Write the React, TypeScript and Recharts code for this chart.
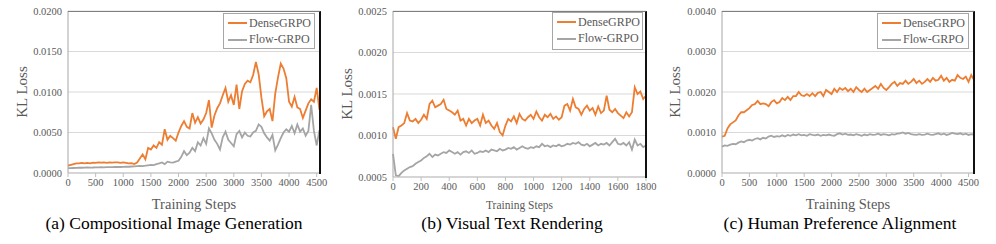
import { LineChart, Line, XAxis, YAxis, CartesianGrid } from "recharts";

const ORANGE = "#ED7D31";
const GRAY = "#A5A5A5";
const TEXT = "#595959";
const FONT = "Liberation Serif";

// (a) Compositional Image Generation, sampled every 50 steps
const denseA = [
  0.0009, 0.001, 0.0011, 0.0012, 0.0012, 0.00125, 0.0012, 0.00125, 0.0012, 0.00128,
  0.00125, 0.0013, 0.00128, 0.0013, 0.00125, 0.0013, 0.00128, 0.0013, 0.00132, 0.00125,
  0.0013, 0.00126, 0.0012, 0.00122, 0.0011, 0.0013, 0.0018, 0.0023, 0.0017, 0.0031,
  0.0029, 0.0034, 0.0031, 0.0038, 0.0035, 0.0054, 0.0041, 0.0046, 0.0043, 0.004,
  0.005, 0.0058, 0.0064, 0.0057, 0.0055, 0.0074, 0.0062, 0.0069, 0.0061, 0.0066,
  0.0074, 0.009, 0.0056, 0.0071, 0.008, 0.0086, 0.0096, 0.0105, 0.0088, 0.0096,
  0.0084, 0.0109, 0.0079, 0.0101, 0.011, 0.0114, 0.0112, 0.0121, 0.0137, 0.0122,
  0.0093, 0.007, 0.0076, 0.0079, 0.0064, 0.0098, 0.0118, 0.0135, 0.0129, 0.0117,
  0.0088, 0.0082, 0.0094, 0.0081, 0.0079, 0.0068, 0.0077, 0.0086, 0.0091, 0.0088,
  0.0105, 0.0078,
];
const flowA = [
  0.0006, 0.0006, 0.00062, 0.00063, 0.00065, 0.00065, 0.00066, 0.00068, 0.00067, 0.00068,
  0.0007, 0.0007, 0.00071, 0.0007, 0.00072, 0.00073, 0.00072, 0.00074, 0.00075, 0.00074,
  0.00076, 0.00078, 0.00077, 0.0008, 0.00082, 0.00085, 0.00088, 0.00086, 0.0009, 0.00095,
  0.001, 0.00098, 0.0011, 0.00118, 0.0013, 0.0011, 0.0014, 0.0013, 0.00128, 0.0014,
  0.0015, 0.002, 0.0027, 0.0022, 0.0025, 0.0031, 0.0027, 0.0038, 0.0034, 0.0043,
  0.0036, 0.0055, 0.0049, 0.0041, 0.0036, 0.0029, 0.0044, 0.0051, 0.0041, 0.0037,
  0.0033, 0.0048, 0.0052, 0.0044, 0.005, 0.0046, 0.0045, 0.005, 0.0052, 0.006,
  0.0057, 0.0049, 0.0044, 0.004, 0.0047, 0.0028, 0.0035, 0.0043, 0.005, 0.0054,
  0.0051, 0.0058, 0.0049, 0.006, 0.0051, 0.0055, 0.0046, 0.0052, 0.0084, 0.0052,
  0.0034, 0.0053,
];

// (b) Visual Text Rendering, sampled every 20 steps
const denseB = [
  0.0011, 0.00096, 0.0011, 0.00112, 0.00115, 0.00127, 0.00118, 0.00117, 0.0012, 0.00115,
  0.00119, 0.00125, 0.0012, 0.00138, 0.00142, 0.00134, 0.00136, 0.00138, 0.00143, 0.00132,
  0.0013, 0.00128, 0.00125, 0.0013, 0.00118, 0.0012, 0.00112, 0.0012, 0.00115, 0.00118,
  0.0012, 0.00112, 0.00125, 0.00115, 0.00118, 0.00112, 0.00108, 0.00115, 0.00104, 0.001,
  0.00112, 0.0012, 0.00117, 0.00123, 0.00115, 0.00126, 0.0012, 0.00118, 0.00122, 0.00125,
  0.0012, 0.00129, 0.00122, 0.00118, 0.00125, 0.00122, 0.00126, 0.0012, 0.00123, 0.00119,
  0.00122, 0.00136, 0.00138, 0.0013, 0.00144, 0.00134, 0.00132, 0.00125, 0.00132, 0.00136,
  0.0013, 0.00133, 0.00125, 0.00135, 0.00127, 0.0013, 0.00148, 0.00131, 0.00128, 0.00132,
  0.00127, 0.00124, 0.00121, 0.00128, 0.00123, 0.00128, 0.00158, 0.0015, 0.00153, 0.00144,
  0.00148,
];
const flowB = [
  0.00078, 0.00052, 0.00051, 0.00055, 0.00058, 0.0006, 0.00062, 0.00063, 0.00066, 0.00068,
  0.0007, 0.00073, 0.00075, 0.00078, 0.00074, 0.00077, 0.00076, 0.00078, 0.0008, 0.00079,
  0.00082, 0.0008, 0.00078, 0.0008, 0.00077, 0.0008, 0.00081, 0.00079, 0.00082, 0.00078,
  0.00079, 0.00081, 0.0008, 0.00082, 0.0008, 0.00083, 0.00082, 0.00081, 0.00084, 0.00082,
  0.00083, 0.00085, 0.00084, 0.00086, 0.00083, 0.00085, 0.00087, 0.00085, 0.00084, 0.00086,
  0.00085, 0.00087, 0.00086, 0.0009, 0.00087, 0.00088, 0.00086, 0.00088, 0.00087, 0.00089,
  0.00087, 0.00088, 0.0009, 0.00089, 0.00091, 0.0009, 0.00092, 0.00089, 0.00088, 0.0009,
  0.00087, 0.00089, 0.00091, 0.00088, 0.0009, 0.00089, 0.00091, 0.00088, 0.00092, 0.00096,
  0.0009, 0.00089, 0.00091, 0.00088, 0.00092, 0.00083, 0.00095, 0.00088, 0.0009, 0.00086,
  0.00088,
];

// (c) Human Preference Alignment, sampled every 50 steps
const denseC = [
  0.0009, 0.00092, 0.0011, 0.0012, 0.00125, 0.0013, 0.00142, 0.0015, 0.0015, 0.00155,
  0.0016, 0.00168, 0.0017, 0.00178, 0.0017, 0.00172, 0.0017, 0.00165, 0.00175, 0.0018,
  0.00172, 0.00175, 0.00185, 0.0018, 0.00188, 0.0018, 0.0019, 0.0019, 0.002, 0.00192,
  0.0019, 0.00195, 0.0019, 0.00197, 0.0019, 0.00198, 0.002, 0.0019, 0.00205, 0.002,
  0.00195, 0.00208, 0.002, 0.0021, 0.00205, 0.0021, 0.00202, 0.00208, 0.002, 0.00212,
  0.00205, 0.002, 0.00208, 0.002, 0.00205, 0.0021, 0.00215, 0.00208, 0.0022, 0.0021,
  0.00205, 0.00212, 0.0022, 0.00225, 0.00215, 0.00222, 0.0022, 0.00228, 0.0022, 0.00225,
  0.00232, 0.00222, 0.00228, 0.0022, 0.00225, 0.00232, 0.00225, 0.00235, 0.00228, 0.0023,
  0.0024, 0.00228, 0.00235, 0.00225, 0.0023, 0.00228, 0.00242, 0.00235, 0.00232, 0.00238,
  0.00225, 0.00242, 0.0023,
];
const flowC = [
  0.00065, 0.00068, 0.00067, 0.0007, 0.00072, 0.00071, 0.00075, 0.00078, 0.00076, 0.0008,
  0.00082, 0.0008, 0.00084, 0.00086, 0.00083, 0.00087, 0.00085, 0.0009, 0.00092, 0.00089,
  0.00091, 0.0009, 0.00093, 0.0009, 0.00094, 0.00092, 0.00095, 0.00093, 0.00096, 0.00093,
  0.00094, 0.00092, 0.00096, 0.00094, 0.00093, 0.00095, 0.00092, 0.00094, 0.00093, 0.00095,
  0.00093, 0.00092, 0.00096, 0.00098, 0.00095, 0.00097, 0.00094, 0.00095, 0.00093, 0.00096,
  0.00094, 0.00092, 0.00095, 0.00093, 0.00096, 0.00094, 0.00095, 0.00097, 0.00094, 0.00096,
  0.00095, 0.00093, 0.00096, 0.00095, 0.00097, 0.00098, 0.001, 0.00097, 0.00099, 0.00096,
  0.00095, 0.00094, 0.00096, 0.00094, 0.00095, 0.00097, 0.00095, 0.00094, 0.00096, 0.00098,
  0.00095, 0.00097, 0.00094, 0.00096, 0.00099, 0.00097, 0.00096, 0.00098, 0.00095, 0.00097,
  0.00094, 0.00096, 0.00095,
];

const xTicksLong = [0, 500, 1000, 1500, 2000, 2500, 3000, 3500, 4000, 4500];
const xTicksB = [0, 200, 400, 600, 800, 1000, 1200, 1400, 1600, 1800];
const yTicksA = [0, 0.005, 0.01, 0.015, 0.02];
const yTicksB = [0.0005, 0.001, 0.0015, 0.002, 0.0025];
const yTicksC = [0, 0.001, 0.002, 0.003, 0.004];

const toRows = (every: number, dense: number[], flow: number[]) =>
  dense.map((d, i) => ({ step: i * every, dense: d, flow: flow[i] }));

interface PanelProps {
  left: number;
  width: number;
  plotL: number;
  plotR: number;
  plotB: number;
  rows: { step: number; dense: number; flow: number }[];
  xMax: number;
  xTicks: number[];
  yTicks: number[];
  yLabelX: number;
  xLabelSize: number;
  caption: string;
  captionX: number;
  legend: { x: number; y: number; w: number; h: number };
}

const PLOT_T = 11;
const CH_H = 212;

function Panel(p: PanelProps) {
  const yDomain = [p.yTicks[0], p.yTicks[p.yTicks.length - 1]];
  return (
    <>
      <div style={{ position: "absolute", left: p.left, top: 0 }}>
        <LineChart
          width={p.width}
          height={CH_H}
          data={p.rows}
          margin={{ top: PLOT_T, right: p.left + p.width - p.plotR, left: 0, bottom: 0 }}
        >
          <CartesianGrid vertical={false} stroke="#d9d9d9" />
          <XAxis
            dataKey="step"
            type="number"
            domain={[0, p.xMax]}
            ticks={p.xTicks}
            interval={0}
            height={CH_H - p.plotB}
            stroke="#bfbfbf"
            tickSize={4}
            tickMargin={2}
            tick={{ fill: TEXT, fontSize: 10.5, fontFamily: FONT }}
            label={{
              value: "Training Steps",
              position: "insideBottom",
              offset: 3,
              style: { fill: TEXT, fontSize: p.xLabelSize, fontFamily: FONT },
            }}
          />
          <YAxis
            type="number"
            domain={yDomain}
            ticks={p.yTicks}
            interval={0}
            width={p.plotL - p.left}
            stroke="#a6a6a6"
            tickLine={false}
            tickSize={0}
            tickMargin={6}
            tickFormatter={(v: number) => v.toFixed(4)}
            tick={{ fill: TEXT, fontSize: 10.5, fontFamily: FONT }}
            label={{
              value: "KL Loss",
              angle: -90,
              position: "insideLeft",
              offset: p.yLabelX,
              style: { fill: TEXT, fontSize: 15, fontFamily: FONT, textAnchor: "middle" },
            }}
          />
          <Line
            dataKey="flow"
            type="linear"
            stroke={GRAY}
            strokeWidth={1.8}
            dot={false}
            isAnimationActive={false}
          />
          <Line
            dataKey="dense"
            type="linear"
            stroke={ORANGE}
            strokeWidth={1.8}
            dot={false}
            isAnimationActive={false}
          />
        </LineChart>
      </div>
      <div
        style={{
          position: "absolute",
          left: p.plotL,
          top: PLOT_T,
          width: p.plotR - p.plotL - 1,
          height: p.plotB - PLOT_T,
          borderTop: "1px solid #7f7f7f",
          borderRight: "2px solid #111",
          pointerEvents: "none",
        }}
      />
      <div
        style={{
          position: "absolute",
          left: p.legend.x,
          top: p.legend.y,
          width: p.legend.w,
          height: p.legend.h,
          boxSizing: "border-box",
          border: "1px solid #a6a6a6",
          background: "#fff",
          fontFamily: FONT,
          fontSize: 12,
          color: TEXT,
          whiteSpace: "nowrap",
          padding: "1px 0 0 4px",
        }}
      >
        {[
          { name: "DenseGRPO", color: ORANGE },
          { name: "Flow-GRPO", color: GRAY },
        ].map((s) => (
          <div key={s.name} style={{ display: "flex", alignItems: "center", height: 16.5 }}>
            <span style={{ display: "inline-block", flex: "none", width: 19, height: 2, background: s.color, marginRight: 2 }} />
            <span>{s.name}</span>
          </div>
        ))}
      </div>
      <div
        style={{
          position: "absolute",
          left: p.captionX - 200,
          top: 212,
          width: 400,
          textAlign: "center",
          fontFamily: FONT,
          fontSize: 17.5,
          lineHeight: "22px",
          color: "#000",
        }}
      >
        {p.caption}
      </div>
    </>
  );
}

export default function App() {
  return (
    <div style={{ position: "absolute", left: 0, top: 0, width: 996, height: 244, background: "#fff" }}>
      <Panel
        left={0}
        width={330}
        plotL={68}
        plotR={320}
        plotB={173}
        rows={toRows(50, denseA, flowA)}
        xMax={4560}
        xTicks={xTicksLong}
        yTicks={yTicksA}
        yLabelX={22}
        xLabelSize={14.5}
        caption="(a) Compositional Image Generation"
        captionX={174}
        legend={{ x: 223, y: 13, w: 92, h: 36 }}
      />
      <Panel
        left={330}
        width={330}
        plotL={393}
        plotR={646}
        plotB={177}
        rows={toRows(20, denseB, flowB)}
        xMax={1800}
        xTicks={xTicksB}
        yTicks={yTicksB}
        yLabelX={17}
        xLabelSize={11.5}
        caption="(b) Visual Text Rendering"
        captionX={512}
        legend={{ x: 552, y: 12, w: 91, h: 38 }}
      />
      <Panel
        left={660}
        width={336}
        plotL={722}
        plotR={974}
        plotB={173}
        rows={toRows(50, denseC, flowC)}
        xMax={4600}
        xTicks={xTicksLong}
        yTicks={yTicksC}
        yLabelX={15}
        xLabelSize={14.5}
        caption="(c) Human Preference Alignment"
        captionX={840}
        legend={{ x: 877, y: 13, w: 92, h: 36 }}
      />
    </div>
  );
}
